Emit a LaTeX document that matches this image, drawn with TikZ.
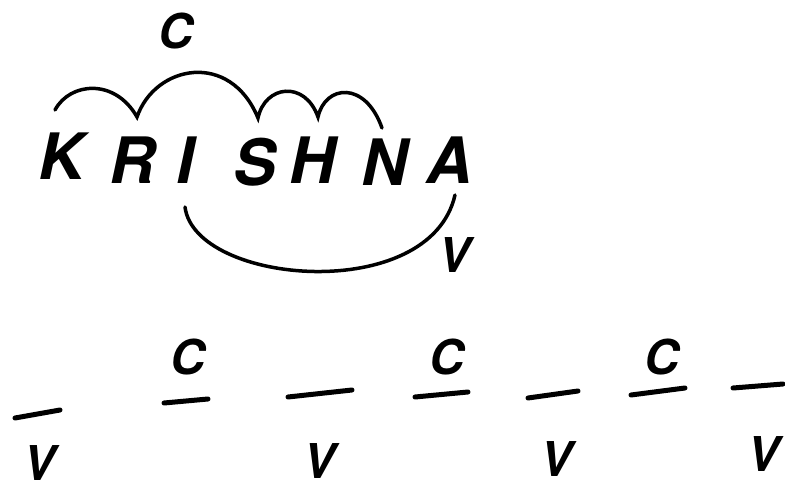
\documentclass[tikz,border=0pt]{standalone}
\usepackage{fontspec}
\setmainfont{TeX Gyre Heros}
\begin{document}
\begin{tikzpicture}[x=1pt,y=-1pt,
  letter/.style={inner sep=0pt,font=\fontsize{64}{64}\selectfont\bfseries\itshape},
  lab/.style={inner sep=0pt,font=\fontsize{48}{48}\selectfont\bfseries\itshape},
  arcline/.style={line width=3.5pt,line cap=round},
  dashline/.style={line width=5pt,line cap=round}]
\useasboundingbox (0,0) rectangle (785,492);
% word
\node[letter] (K) at (62,156) {K};
\node[letter] (R) at (133,160) {R};
\node[letter] (I) at (185,160) {I};
\node[letter] (S) at (255,162) {S};
\node[letter] (H) at (313,160) {H};
\node[letter] (N) at (385,162) {N};
\node[letter] (A) at (450,160) {A};
\node[lab] (Ctop) at (176,31) {C};
\node[lab] (Vtop) at (455,255) {V};
% top arcs
\coordinate (t0) at (55,110);
\coordinate (t1) at (137,117);
\coordinate (t2) at (258,118);
\coordinate (t3) at (318,117);
\coordinate (t4) at (382,128);
\draw[arcline] (t0) .. controls (70,82) and (115,78) .. (t1)
  .. controls (155,65) and (230,50) .. (t2)
  .. controls (265,85) and (305,80) .. (t3)
  .. controls (325,85) and (365,80) .. (t4);
% bottom arc
\coordinate (b0) at (185,207);
\coordinate (b1) at (455,195);
\draw[arcline] (b0) .. controls (195,285) and (430,305) .. (b1);
% bottom row
\coordinate (d1a) at (15,418); \coordinate (d1b) at (60,410);
\coordinate (d2a) at (164,403); \coordinate (d2b) at (208,399);
\coordinate (d3a) at (288,397); \coordinate (d3b) at (352,390);
\coordinate (d4a) at (415,397); \coordinate (d4b) at (468,392);
\coordinate (d5a) at (528,398); \coordinate (d5b) at (578,391);
\coordinate (d6a) at (631,395); \coordinate (d6b) at (685,388);
\coordinate (d7a) at (733,388); \coordinate (d7b) at (783,384);
\foreach \i in {1,...,7} \draw[dashline] (d\i a) -- (d\i b);
\node[lab] (V1) at (40,463) {V};
\node[lab] (C2) at (188,357) {C};
\node[lab] (V3) at (320,461) {V};
\node[lab] (C4) at (447,357) {C};
\node[lab] (V5) at (557,459) {V};
\node[lab] (C6) at (662,357) {C};
\node[lab] (V7) at (764,454) {V};
\end{tikzpicture}
\end{document}
